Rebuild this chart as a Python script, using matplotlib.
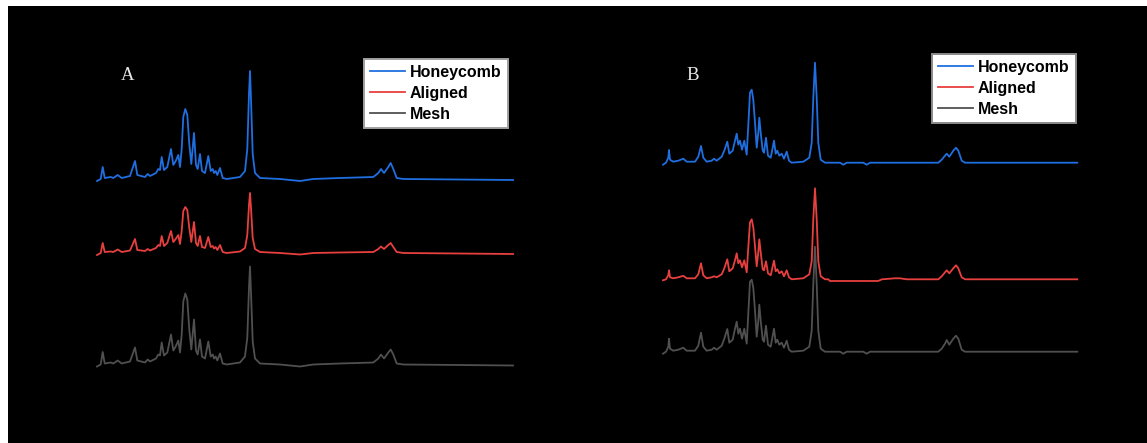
import matplotlib
matplotlib.use("Agg")
import matplotlib.pyplot as plt
from matplotlib.patches import Rectangle
from matplotlib.font_manager import FontProperties

# ---------------- data ----------------
series_names = ["Honeycomb", "Aligned", "Mesh"]

# Panel A: spectral position (arbitrary units) and intensity above baseline
xA = [0, 3.7, 5.7, 7.7, 13.7, 16.3, 20.7, 24.7, 33, 38, 40.3, 48, 50.7, 53, 59, 61.3, 63, 64.7,
      67, 70.3, 74, 76.3, 78.7, 81.3, 83, 84.7, 86.3, 88.3, 90.3, 92.3, 94.3, 97, 99, 100.7,
      103, 105, 108, 111.3, 113.7, 115.7, 117, 118.7, 120.3, 123, 125.7, 129.7, 143, 148,
      150.3, 152, 153, 154, 155.7, 158, 163, 183, 203, 216.3, 243, 276.3, 281.3, 284, 287,
      291.3, 293.7, 296.3, 299.7, 306.3, 416]
honeyA = [-2, 0, 12, 1, 2, 1, 4, 1, 3, 18, 4, 2, 5, 3, 6, 10, 9, 22,
          9, 12, 30, 14, 18, 24, 12, 30, 62, 70, 64, 35, 15, 46, 14, 10,
          25, 8, 6, 23, 8, 10, 6, 8, 4, 11, 1, 0, 2, 8,
          30, 85, 108, 80, 25, 6, 1, 0, -2, 0, 1, 2, 6, 10, 6,
          12, 16, 10, 1, 0, -1]
alignA = [-2, 0, 10, 1, 1.5, 1, 3.5, 1, 2.5, 14, 3, 2, 4, 2.5, 5, 8, 7, 17,
          7, 10, 22, 11, 14, 18, 9, 22, 42, 46, 43, 25, 11, 31, 10, 7,
          17, 6, 5, 16, 6, 7, 4.5, 6, 3, 8, 1, 0, 1.5, 5,
          18, 48, 60, 45, 15, 4, 1, 0, -1.5, 0, 0.5, 1, 4, 6.5, 4,
          8, 10, 6, 1, 0, -1]
meshA = [-2, 0, 12.5, 1, 2, 1, 4, 1, 3, 17, 4, 2, 5, 3, 6, 10, 9, 22,
         9, 12, 30, 14, 18, 24, 12, 30, 63, 71, 65, 35, 15, 45, 14, 10,
         25, 8, 6, 23, 8, 10, 6, 8, 4, 11, 1, 0, 2, 8,
         27, 77, 98, 72, 23, 6, 1, 0, -2, 0, 1, 2, 6, 10, 6,
         12, 15, 10, 1, 0, -1]

# Panel B
xB = [0, 3, 5.3, 6, 7, 10.3, 15.3, 20.3, 23.7, 32, 35.3, 38, 40.3, 43.7, 48.7, 51, 53.7, 58.7,
      61.3, 64.3, 66.3, 69.7, 72, 73.7, 75.3, 77, 79, 81.3, 83.7, 85.7, 87, 88.7, 90.3, 92,
      93.7, 95.3, 96.3, 97.7, 99.7, 101, 103, 105, 107.7, 109.7, 111, 112.7, 114.3, 116.3,
      118.7, 121, 123.7, 126, 128.7, 140.3, 146.3, 148.7, 150.3, 152, 153.7, 155.3, 157.7,
      162, 165.3, 167, 177, 180.3, 183.7, 200.3, 203.7, 207, 215, 219, 232, 237, 243.7,
      275.3, 278.7, 282, 283.7, 286.3, 290.3, 293, 295.3, 298.7, 302, 414.3]
honeyB = [-2, 0, 5, 12.7, 3, 1, 2, 4, 1, 1, 6, 16.7, 5, 1, 2, 4, 2, 6,
          12, 21, 9, 12, 22, 29, 18, 22, 13, 22, 8, 45, 70, 73, 63, 40,
          15, 30, 45, 30, 12, 10, 25, 7, 5, 15, 22, 9, 12, 7,
          9, 4, 11, 2, 0, 1, 5, 20, 65, 100, 65, 20, 3,
          0, 0, 0, 0, -2, 0, 0, -2, 0, 0, 0, 0, 0, 0,
          0, 3, 7, 9, 6, 12, 15, 12, 2, 0, 0]
alignB = [-1, 0, 4, 9, 2, 1, 2, 3.5, 1, 1, 5, 16, 4, 1, 2, 3, 2, 5,
          11, 20, 8, 11, 19, 26, 16, 19, 12, 19, 7, 38, 57, 60, 52, 33,
          13, 27, 40, 27, 10, 9, 18, 6, 4, 13, 18.6, 8, 10, 6,
          8, 3, 9, 2, 0, 1, 5, 18, 60, 91, 60, 18, 3,
          0, 0, -1.7, -1.7, -1.7, -1.7, -1.7, -1.7, -1.7, -1.7, 0, 1, 1, 0,
          0, 3, 7, 9, 6, 11, 14, 11, 2, 0, 0]
meshB = [-2, 0, 5, 13, 3, 1, 2, 4, 1, 1, 6, 19, 5, 1, 2, 4, 2, 6,
         13, 22.7, 9, 12, 23, 30, 18, 23, 13, 23, 8, 46, 70, 72, 64, 41,
         15, 31, 47, 31, 12, 10, 26, 7, 5, 16, 23, 9, 12, 7,
         9, 4, 11, 2, 0, 1, 5, 21, 68, 105, 68, 21, 3,
         0, 0, 0, 0, -2, 0, 0, -2, 0, 0, 0, 0, 0, 0,
         0, 3, 8, 11.7, 7, 13, 16, 13, 2, 0, 0]

# ---------------- layout / style ----------------
W, H = 1147, 443
colors = ["#1F6FE0", "#E8403F", "#505050"]
offsetsA = [264, 190, 78.5]
offsetsB = [280.3, 163.7, 91.3]

fig = plt.figure(figsize=(W / 100, H / 100), dpi=100, facecolor="white")
fig.patches.append(Rectangle((8 / W, 0), 1 - 8 / W, (H - 6) / H, transform=fig.transFigure,
                             facecolor="black", edgecolor="none", zorder=-10))

leg_font = FontProperties(family="Liberation Sans", weight="bold", size=11.5)


def panel(left_px, width_px, xs, ys_list, offsets, xmax, label, label_xy, leg_xy, leg_edge):
    ax = fig.add_axes([left_px / W, 0, width_px / W, (H - 6) / H])
    ax.set_xlim(0, xmax)
    ax.set_ylim(0, H - 6)
    ax.axis("off")
    ax.patch.set_alpha(0)
    handles = []
    for ys, off, c, name in zip(ys_list, offsets, colors, series_names):
        ln, = ax.plot(xs, [v + off for v in ys], color=c, lw=1.3, label=name,
                      clip_on=False, solid_joinstyle="round")
        handles.append(ln)
    fig.text(label_xy[0] / W, 1 - label_xy[1] / H, label, color="#e8e8e8",
             family="Liberation Serif", fontsize=13.5, ha="center", va="center")
    leg = ax.legend(handles=handles, loc="upper left",
                    bbox_to_anchor=(leg_xy[0] / W, 1 - leg_xy[1] / H),
                    bbox_transform=fig.transFigure, borderaxespad=0, frameon=True,
                    fancybox=False, edgecolor=leg_edge, facecolor="white", framealpha=1,
                    prop=leg_font, handlelength=2.2, handletextpad=0.3,
                    labelspacing=0.36, borderpad=0.38)
    leg.get_frame().set_linewidth(1.4)
    for t in leg.get_texts():
        t.set_color("black")
    return ax


panel(97, 416, xA, [honeyA, alignA, meshA], offsetsA, 416, "A", (128, 76), (364, 59), "#a0a0a0")
panel(663, 414, xB, [honeyB, alignB, meshB], offsetsB, 414, "B", (693, 76), (932, 54), "#8a8a8a")

fig.savefig("out.png", dpi=100, facecolor="white")
